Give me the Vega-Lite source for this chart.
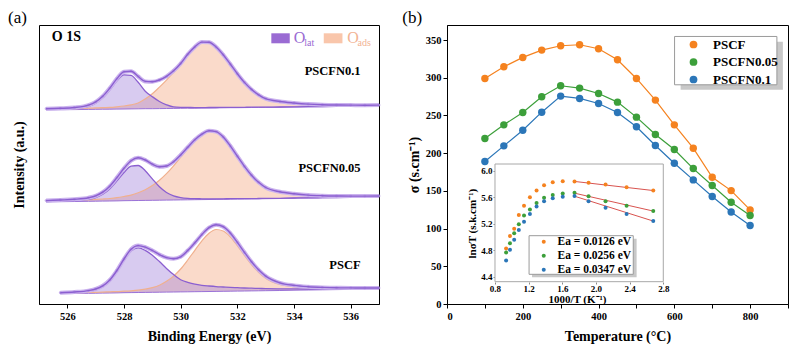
{
"$schema":"https://vega.github.io/schema/vega-lite/v6.json",
"padding":{"left":7,"top":8,"right":5,"bottom":5},
"bounds":"flush",
"spacing":68,
"config":{
 "font":"Liberation Serif",
 "view":{"stroke":"black","strokeWidth":1},
 "axis":{"labelFont":"Liberation Serif","labelFontWeight":"bold","titleFont":"Liberation Serif","titleFontWeight":"bold","labelColor":"black","titleColor":"black","tickColor":"black","domainColor":"black","grid":false,"labelOverlap":false},
 "legend":{"labelFont":"Liberation Serif","labelColor":"black"},
 "title":{"font":"Liberation Serif","fontSize":17,"fontWeight":"normal","anchor":"start","frame":"bounds","offset":-2,"color":"black"},
 "text":{"font":"Liberation Serif"}
},
"datasets":{
 "xps":[
{"s":"PSCFN0.1","e":525.25,"bg":194.1,"lat":194.6,"ads":194.8,"tot":195.3},
{"s":"PSCFN0.1","e":525.75,"bg":194.3,"lat":194.9,"ads":195.1,"tot":195.7},
{"s":"PSCFN0.1","e":526.25,"bg":194.4,"lat":195.5,"ads":195.4,"tot":196.5},
{"s":"PSCFN0.1","e":526.75,"bg":194.6,"lat":197.7,"ads":195.8,"tot":198.9},
{"s":"PSCFN0.1","e":527.0,"bg":194.7,"lat":200.7,"ads":196.1,"tot":202.1},
{"s":"PSCFN0.1","e":527.25,"bg":194.8,"lat":206.1,"ads":196.4,"tot":207.7},
{"s":"PSCFN0.1","e":527.5,"bg":194.8,"lat":214.1,"ads":196.6,"tot":215.9},
{"s":"PSCFN0.1","e":527.75,"bg":194.9,"lat":223.1,"ads":197.2,"tot":225.4},
{"s":"PSCFN0.1","e":528.0,"bg":195.0,"lat":229.2,"ads":198.0,"tot":232.2},
{"s":"PSCFN0.1","e":528.25,"bg":195.1,"lat":228.6,"ads":199.2,"tot":232.7},
{"s":"PSCFN0.1","e":528.5,"bg":195.2,"lat":221.7,"ads":201.0,"tot":227.5},
{"s":"PSCFN0.1","e":528.75,"bg":195.3,"lat":212.8,"ads":205.1,"tot":222.6},
{"s":"PSCFN0.1","e":529.0,"bg":195.3,"lat":207.3,"ads":210.3,"tot":222.3},
{"s":"PSCFN0.1","e":529.25,"bg":195.4,"lat":202.5,"ads":216.9,"tot":224.0},
{"s":"PSCFN0.1","e":529.5,"bg":195.5,"lat":199.2,"ads":223.9,"tot":227.6},
{"s":"PSCFN0.1","e":529.75,"bg":195.6,"lat":197.1,"ads":231.7,"tot":233.2},
{"s":"PSCFN0.1","e":530.0,"bg":195.7,"lat":196.7,"ads":239.5,"tot":240.5},
{"s":"PSCFN0.1","e":530.25,"bg":195.8,"lat":196.6,"ads":248.9,"tot":249.7},
{"s":"PSCFN0.1","e":530.5,"bg":195.8,"lat":196.4,"ads":256.5,"tot":257.1},
{"s":"PSCFN0.1","e":530.75,"bg":195.9,"lat":196.4,"ads":261.4,"tot":261.9},
{"s":"PSCFN0.1","e":531.0,"bg":196.0,"lat":196.5,"ads":261.3,"tot":261.8},
{"s":"PSCFN0.1","e":531.25,"bg":196.1,"lat":196.5,"ads":256.6,"tot":257.0},
{"s":"PSCFN0.1","e":531.5,"bg":196.2,"lat":196.6,"ads":248.9,"tot":249.3},
{"s":"PSCFN0.1","e":531.75,"bg":196.3,"lat":196.6,"ads":239.7,"tot":240.0},
{"s":"PSCFN0.1","e":532.0,"bg":196.3,"lat":196.6,"ads":230.0,"tot":230.3},
{"s":"PSCFN0.1","e":532.25,"bg":196.4,"lat":196.7,"ads":221.3,"tot":221.6},
{"s":"PSCFN0.1","e":532.5,"bg":196.5,"lat":196.8,"ads":214.3,"tot":214.6},
{"s":"PSCFN0.1","e":532.75,"bg":196.6,"lat":196.8,"ads":209.0,"tot":209.2},
{"s":"PSCFN0.1","e":533.0,"bg":196.7,"lat":196.9,"ads":205.1,"tot":205.3},
{"s":"PSCFN0.1","e":533.5,"bg":196.8,"lat":197.0,"ads":202.3,"tot":202.5},
{"s":"PSCFN0.1","e":534.0,"bg":197.0,"lat":197.2,"ads":200.8,"tot":201.0},
{"s":"PSCFN0.1","e":534.5,"bg":197.2,"lat":197.3,"ads":199.8,"tot":199.9},
{"s":"PSCFN0.1","e":535.0,"bg":197.3,"lat":197.4,"ads":199.2,"tot":199.3},
{"s":"PSCFN0.1","e":535.5,"bg":197.5,"lat":197.6,"ads":198.9,"tot":199.0},
{"s":"PSCFN0.1","e":536.0,"bg":197.7,"lat":197.8,"ads":198.8,"tot":198.9},
{"s":"PSCFN0.1","e":536.5,"bg":197.8,"lat":197.9,"ads":198.7,"tot":198.8},
{"s":"PSCFN0.1","e":537.0,"bg":198.0,"lat":198.1,"ads":198.8,"tot":198.9},
{"s":"PSCFN0.05","e":525.25,"bg":102.1,"lat":102.5,"ads":103.0,"tot":103.4},
{"s":"PSCFN0.05","e":525.75,"bg":102.3,"lat":102.9,"ads":103.4,"tot":104.0},
{"s":"PSCFN0.05","e":526.25,"bg":102.5,"lat":103.5,"ads":103.7,"tot":104.7},
{"s":"PSCFN0.05","e":526.75,"bg":102.7,"lat":104.7,"ads":104.3,"tot":106.3},
{"s":"PSCFN0.05","e":527.0,"bg":102.8,"lat":106.4,"ads":104.6,"tot":108.2},
{"s":"PSCFN0.05","e":527.25,"bg":102.9,"lat":109.7,"ads":105.0,"tot":111.8},
{"s":"PSCFN0.05","e":527.5,"bg":103.0,"lat":115.3,"ads":105.5,"tot":117.8},
{"s":"PSCFN0.05","e":527.75,"bg":103.1,"lat":123.2,"ads":106.3,"tot":126.4},
{"s":"PSCFN0.05","e":528.0,"bg":103.3,"lat":131.5,"ads":107.5,"tot":135.7},
{"s":"PSCFN0.05","e":528.25,"bg":103.4,"lat":137.8,"ads":108.9,"tot":143.3},
{"s":"PSCFN0.05","e":528.5,"bg":103.5,"lat":138.5,"ads":111.2,"tot":146.2},
{"s":"PSCFN0.05","e":528.75,"bg":103.6,"lat":133.3,"ads":114.3,"tot":144.0},
{"s":"PSCFN0.05","e":529.0,"bg":103.7,"lat":125.1,"ads":118.4,"tot":139.8},
{"s":"PSCFN0.05","e":529.25,"bg":103.8,"lat":117.2,"ads":123.8,"tot":137.2},
{"s":"PSCFN0.05","e":529.5,"bg":103.9,"lat":111.5,"ads":130.4,"tot":138.0},
{"s":"PSCFN0.05","e":529.75,"bg":104.0,"lat":108.1,"ads":138.2,"tot":142.3},
{"s":"PSCFN0.05","e":530.0,"bg":104.1,"lat":106.4,"ads":146.8,"tot":149.1},
{"s":"PSCFN0.05","e":530.25,"bg":104.2,"lat":105.6,"ads":155.4,"tot":156.8},
{"s":"PSCFN0.05","e":530.5,"bg":104.3,"lat":105.3,"ads":163.2,"tot":164.2},
{"s":"PSCFN0.05","e":530.75,"bg":104.4,"lat":105.2,"ads":169.0,"tot":169.8},
{"s":"PSCFN0.05","e":531.0,"bg":104.5,"lat":105.1,"ads":172.6,"tot":173.2},
{"s":"PSCFN0.05","e":531.25,"bg":104.6,"lat":105.2,"ads":171.8,"tot":172.4},
{"s":"PSCFN0.05","e":531.5,"bg":104.7,"lat":105.2,"ads":166.6,"tot":167.1},
{"s":"PSCFN0.05","e":531.75,"bg":104.8,"lat":105.3,"ads":157.7,"tot":158.2},
{"s":"PSCFN0.05","e":532.0,"bg":104.9,"lat":105.3,"ads":147.4,"tot":147.8},
{"s":"PSCFN0.05","e":532.25,"bg":105.0,"lat":105.4,"ads":137.3,"tot":137.7},
{"s":"PSCFN0.05","e":532.5,"bg":105.1,"lat":105.4,"ads":128.5,"tot":128.8},
{"s":"PSCFN0.05","e":532.75,"bg":105.2,"lat":105.5,"ads":121.4,"tot":121.7},
{"s":"PSCFN0.05","e":533.0,"bg":105.3,"lat":105.6,"ads":116.2,"tot":116.5},
{"s":"PSCFN0.05","e":533.5,"bg":105.5,"lat":105.7,"ads":112.0,"tot":112.2},
{"s":"PSCFN0.05","e":534.0,"bg":105.8,"lat":106.0,"ads":110.0,"tot":110.2},
{"s":"PSCFN0.05","e":534.5,"bg":106.0,"lat":106.1,"ads":108.8,"tot":108.9},
{"s":"PSCFN0.05","e":535.0,"bg":106.2,"lat":106.3,"ads":108.2,"tot":108.3},
{"s":"PSCFN0.05","e":535.5,"bg":106.4,"lat":106.5,"ads":107.9,"tot":108.0},
{"s":"PSCFN0.05","e":536.0,"bg":106.6,"lat":106.7,"ads":107.8,"tot":107.9},
{"s":"PSCFN0.05","e":536.5,"bg":106.8,"lat":106.9,"ads":107.8,"tot":107.9},
{"s":"PSCFN0.05","e":537.0,"bg":107.0,"lat":107.1,"ads":107.9,"tot":108.0},
{"s":"PSCF","e":525.75,"bg":10.3,"lat":10.7,"ads":10.9,"tot":11.3},
{"s":"PSCF","e":526.25,"bg":10.5,"lat":11.3,"ads":11.2,"tot":12.0},
{"s":"PSCF","e":526.75,"bg":10.7,"lat":12.6,"ads":11.5,"tot":13.4},
{"s":"PSCF","e":527.0,"bg":10.8,"lat":14.1,"ads":11.7,"tot":15.0},
{"s":"PSCF","e":527.25,"bg":10.9,"lat":17.2,"ads":11.9,"tot":18.2},
{"s":"PSCF","e":527.5,"bg":11.0,"lat":22.9,"ads":12.2,"tot":24.1},
{"s":"PSCF","e":527.75,"bg":11.1,"lat":32.2,"ads":12.4,"tot":33.5},
{"s":"PSCF","e":528.0,"bg":11.3,"lat":43.5,"ads":12.8,"tot":45.0},
{"s":"PSCF","e":528.25,"bg":11.4,"lat":53.0,"ads":13.2,"tot":54.8},
{"s":"PSCF","e":528.5,"bg":11.5,"lat":56.1,"ads":13.8,"tot":58.4},
{"s":"PSCF","e":528.75,"bg":11.6,"lat":53.6,"ads":14.8,"tot":56.8},
{"s":"PSCF","e":529.0,"bg":11.7,"lat":48.8,"ads":16.4,"tot":53.5},
{"s":"PSCF","e":529.25,"bg":11.8,"lat":42.4,"ads":18.8,"tot":49.4},
{"s":"PSCF","e":529.5,"bg":11.9,"lat":35.6,"ads":22.7,"tot":46.4},
{"s":"PSCF","e":529.75,"bg":12.0,"lat":29.4,"ads":27.9,"tot":45.3},
{"s":"PSCF","e":530.0,"bg":12.1,"lat":24.3,"ads":35.0,"tot":47.2},
{"s":"PSCF","e":530.25,"bg":12.2,"lat":21.7,"ads":44.0,"tot":53.5},
{"s":"PSCF","e":530.5,"bg":12.3,"lat":19.8,"ads":53.7,"tot":61.2},
{"s":"PSCF","e":530.75,"bg":12.4,"lat":18.7,"ads":63.2,"tot":69.5},
{"s":"PSCF","e":531.0,"bg":12.5,"lat":18.0,"ads":70.8,"tot":76.3},
{"s":"PSCF","e":531.25,"bg":12.6,"lat":17.4,"ads":74.5,"tot":79.3},
{"s":"PSCF","e":531.5,"bg":12.7,"lat":17.0,"ads":73.0,"tot":77.3},
{"s":"PSCF","e":531.75,"bg":12.8,"lat":16.6,"ads":67.2,"tot":71.0},
{"s":"PSCF","e":532.0,"bg":12.9,"lat":16.3,"ads":58.3,"tot":61.7},
{"s":"PSCF","e":532.25,"bg":13.0,"lat":16.0,"ads":48.7,"tot":51.7},
{"s":"PSCF","e":532.5,"bg":13.1,"lat":15.8,"ads":39.5,"tot":42.2},
{"s":"PSCF","e":532.75,"bg":13.2,"lat":15.6,"ads":31.8,"tot":34.2},
{"s":"PSCF","e":533.0,"bg":13.3,"lat":15.4,"ads":25.8,"tot":27.9},
{"s":"PSCF","e":533.5,"bg":13.5,"lat":15.2,"ads":19.5,"tot":21.2},
{"s":"PSCF","e":534.0,"bg":13.8,"lat":15.1,"ads":17.3,"tot":18.6},
{"s":"PSCF","e":534.5,"bg":14.0,"lat":15.0,"ads":16.3,"tot":17.3},
{"s":"PSCF","e":535.0,"bg":14.2,"lat":15.0,"ads":15.8,"tot":16.6},
{"s":"PSCF","e":535.5,"bg":14.4,"lat":15.0,"ads":15.6,"tot":16.2},
{"s":"PSCF","e":536.0,"bg":14.6,"lat":15.1,"ads":15.6,"tot":16.1},
{"s":"PSCF","e":536.5,"bg":14.8,"lat":15.2,"ads":15.6,"tot":16.0},
{"s":"PSCF","e":537.0,"bg":15.0,"lat":15.3,"ads":15.7,"tot":16.0}
 ],
 "cond":[
{"sample":"PSCF","T":100,"sigma":299.1},{"sample":"PSCF","T":150,"sigma":314.6},{"sample":"PSCF","T":200,"sigma":327.0},{"sample":"PSCF","T":250,"sigma":336.7},{"sample":"PSCF","T":300,"sigma":342.5},{"sample":"PSCF","T":350,"sigma":343.8},{"sample":"PSCF","T":400,"sigma":338.5},{"sample":"PSCF","T":450,"sigma":323.9},{"sample":"PSCF","T":500,"sigma":299.1},{"sample":"PSCF","T":550,"sigma":270.4},{"sample":"PSCF","T":600,"sigma":237.6},{"sample":"PSCF","T":650,"sigma":206.6},{"sample":"PSCF","T":700,"sigma":168.1},{"sample":"PSCF","T":750,"sigma":150.4},{"sample":"PSCF","T":800,"sigma":124.8},
{"sample":"PSCFN0.05","T":100,"sigma":219.5},{"sample":"PSCFN0.05","T":150,"sigma":237.6},{"sample":"PSCFN0.05","T":200,"sigma":254.0},{"sample":"PSCFN0.05","T":250,"sigma":274.8},{"sample":"PSCFN0.05","T":300,"sigma":289.4},{"sample":"PSCFN0.05","T":350,"sigma":286.3},{"sample":"PSCFN0.05","T":400,"sigma":279.2},{"sample":"PSCFN0.05","T":450,"sigma":267.7},{"sample":"PSCFN0.05","T":500,"sigma":247.8},{"sample":"PSCFN0.05","T":550,"sigma":224.8},{"sample":"PSCFN0.05","T":600,"sigma":204.9},{"sample":"PSCFN0.05","T":650,"sigma":179.6},{"sample":"PSCFN0.05","T":700,"sigma":157.1},{"sample":"PSCFN0.05","T":750,"sigma":135.0},{"sample":"PSCFN0.05","T":800,"sigma":117.3},
{"sample":"PSCFN0.1","T":100,"sigma":188.9},{"sample":"PSCFN0.1","T":150,"sigma":209.7},{"sample":"PSCFN0.1","T":200,"sigma":230.5},{"sample":"PSCFN0.1","T":250,"sigma":254.4},{"sample":"PSCFN0.1","T":300,"sigma":275.7},{"sample":"PSCFN0.1","T":350,"sigma":272.6},{"sample":"PSCFN0.1","T":400,"sigma":265.9},{"sample":"PSCFN0.1","T":450,"sigma":254.0},{"sample":"PSCFN0.1","T":500,"sigma":235.0},{"sample":"PSCFN0.1","T":550,"sigma":210.2},{"sample":"PSCFN0.1","T":600,"sigma":186.7},{"sample":"PSCFN0.1","T":650,"sigma":164.6},{"sample":"PSCFN0.1","T":700,"sigma":142.5},{"sample":"PSCFN0.1","T":750,"sigma":122.1},{"sample":"PSCFN0.1","T":800,"sigma":104.0}
 ],
 "arr":[
{"ea":"Ea = 0.0126 eV","inv":2.681,"ln":5.701},{"ea":"Ea = 0.0126 eV","inv":2.364,"ln":5.751},{"ea":"Ea = 0.0126 eV","inv":2.114,"ln":5.790},{"ea":"Ea = 0.0126 eV","inv":1.912,"ln":5.819},{"ea":"Ea = 0.0126 eV","inv":1.745,"ln":5.836},{"ea":"Ea = 0.0126 eV","inv":1.605,"ln":5.840},{"ea":"Ea = 0.0126 eV","inv":1.486,"ln":5.825},{"ea":"Ea = 0.0126 eV","inv":1.383,"ln":5.781},{"ea":"Ea = 0.0126 eV","inv":1.294,"ln":5.701},{"ea":"Ea = 0.0126 eV","inv":1.215,"ln":5.600},{"ea":"Ea = 0.0126 eV","inv":1.145,"ln":5.471},{"ea":"Ea = 0.0126 eV","inv":1.083,"ln":5.331},{"ea":"Ea = 0.0126 eV","inv":1.028,"ln":5.125},{"ea":"Ea = 0.0126 eV","inv":0.978,"ln":5.013},{"ea":"Ea = 0.0126 eV","inv":0.932,"ln":4.827},
{"ea":"Ea = 0.0256 eV","inv":2.681,"ln":5.391},{"ea":"Ea = 0.0256 eV","inv":2.364,"ln":5.471},{"ea":"Ea = 0.0256 eV","inv":2.114,"ln":5.537},{"ea":"Ea = 0.0256 eV","inv":1.912,"ln":5.616},{"ea":"Ea = 0.0256 eV","inv":1.745,"ln":5.668},{"ea":"Ea = 0.0256 eV","inv":1.605,"ln":5.657},{"ea":"Ea = 0.0256 eV","inv":1.486,"ln":5.632},{"ea":"Ea = 0.0256 eV","inv":1.383,"ln":5.590},{"ea":"Ea = 0.0256 eV","inv":1.294,"ln":5.513},{"ea":"Ea = 0.0256 eV","inv":1.215,"ln":5.415},{"ea":"Ea = 0.0256 eV","inv":1.145,"ln":5.323},{"ea":"Ea = 0.0256 eV","inv":1.083,"ln":5.191},{"ea":"Ea = 0.0256 eV","inv":1.028,"ln":5.057},{"ea":"Ea = 0.0256 eV","inv":0.978,"ln":4.905},{"ea":"Ea = 0.0256 eV","inv":0.932,"ln":4.765},
{"ea":"Ea = 0.0347 eV","inv":2.681,"ln":5.241},{"ea":"Ea = 0.0347 eV","inv":2.364,"ln":5.346},{"ea":"Ea = 0.0347 eV","inv":2.114,"ln":5.440},{"ea":"Ea = 0.0347 eV","inv":1.912,"ln":5.539},{"ea":"Ea = 0.0347 eV","inv":1.745,"ln":5.619},{"ea":"Ea = 0.0347 eV","inv":1.605,"ln":5.608},{"ea":"Ea = 0.0347 eV","inv":1.486,"ln":5.583},{"ea":"Ea = 0.0347 eV","inv":1.383,"ln":5.537},{"ea":"Ea = 0.0347 eV","inv":1.294,"ln":5.460},{"ea":"Ea = 0.0347 eV","inv":1.215,"ln":5.348},{"ea":"Ea = 0.0347 eV","inv":1.145,"ln":5.230},{"ea":"Ea = 0.0347 eV","inv":1.083,"ln":5.104},{"ea":"Ea = 0.0347 eV","inv":1.028,"ln":4.959},{"ea":"Ea = 0.0347 eV","inv":0.978,"ln":4.805},{"ea":"Ea = 0.0347 eV","inv":0.932,"ln":4.644}
 ],
 "fit":[
{"ea":"Ea = 0.0126 eV","inv":1.73,"ln":5.840},{"ea":"Ea = 0.0126 eV","inv":2.69,"ln":5.699},
{"ea":"Ea = 0.0256 eV","inv":1.73,"ln":5.665},{"ea":"Ea = 0.0256 eV","inv":2.69,"ln":5.388},
{"ea":"Ea = 0.0347 eV","inv":1.73,"ln":5.621},{"ea":"Ea = 0.0347 eV","inv":2.69,"ln":5.236}
 ]
},
"hconcat":[
{
 "width":340,"height":279,
 "title":{"text":"(a)","dx":-4},
 "layer":[
  {"data":{"name":"xps"},"mark":{"type":"area","interpolate":"monotone","fill":"#f6c1a6","fillOpacity":0.6},
   "encoding":{
    "x":{"field":"e","type":"quantitative","title":"Binding Energy (eV)","scale":{"domain":[525,537],"nice":false,"zero":false},
      "axis":{"values":[526,527,528,529,530,531,532,533,534,535,536],"labelExpr":"datum.value % 2 == 0 ? datum.label : ''","labelOverlap":false,"tickSize":4,"labelFontSize":10.5,"titleFontSize":14,"labelPadding":3,"titlePadding":8}},
    "y":{"field":"ads","type":"quantitative","title":"Intensity (a.u.)","scale":{"domain":[0,279],"nice":false},
      "axis":{"labels":false,"ticks":false,"domain":false,"titleFontSize":14,"titlePadding":13}},
    "y2":{"field":"bg"},"detail":{"field":"s"}}},
  {"data":{"name":"xps"},"mark":{"type":"area","interpolate":"monotone","fill":"#a383dc","fillOpacity":0.42},
   "encoding":{"x":{"field":"e","type":"quantitative","title":"Binding Energy (eV)"},"y":{"field":"lat","type":"quantitative","title":"Intensity (a.u.)"},"y2":{"field":"bg"},"detail":{"field":"s"}}},
  {"data":{"name":"xps"},"mark":{"type":"line","interpolate":"monotone","stroke":"#9a72d8","strokeWidth":1},
   "encoding":{"x":{"field":"e","type":"quantitative","title":"Binding Energy (eV)"},"y":{"field":"bg","type":"quantitative","title":"Intensity (a.u.)"},"detail":{"field":"s"}}},
  {"data":{"name":"xps"},"mark":{"type":"line","interpolate":"monotone","stroke":"#f0b08e","strokeWidth":1.2},
   "encoding":{"x":{"field":"e","type":"quantitative","title":"Binding Energy (eV)"},"y":{"field":"ads","type":"quantitative","title":"Intensity (a.u.)"},"detail":{"field":"s"}}},
  {"data":{"name":"xps"},"mark":{"type":"line","interpolate":"monotone","stroke":"#8b5fd0","strokeWidth":1.3},
   "encoding":{"x":{"field":"e","type":"quantitative","title":"Binding Energy (eV)"},"y":{"field":"lat","type":"quantitative","title":"Intensity (a.u.)"},"detail":{"field":"s"}}},
  {"data":{"name":"xps"},"mark":{"type":"line","interpolate":"monotone","stroke":"#cbb3ee","strokeWidth":4},
   "encoding":{"x":{"field":"e","type":"quantitative","title":"Binding Energy (eV)"},"y":{"field":"tot","type":"quantitative","title":"Intensity (a.u.)"},"detail":{"field":"s"}}},
  {"data":{"name":"xps"},"mark":{"type":"point","filled":true,"size":8,"color":"#b597e4","opacity":0.8},
   "encoding":{"x":{"field":"e","type":"quantitative","title":"Binding Energy (eV)"},"y":{"field":"tot","type":"quantitative","title":"Intensity (a.u.)"}}},
  {"data":{"name":"xps"},"mark":{"type":"line","interpolate":"monotone","stroke":"#8b5fd0","strokeWidth":1.4},
   "encoding":{"x":{"field":"e","type":"quantitative","title":"Binding Energy (eV)"},"y":{"field":"tot","type":"quantitative","title":"Intensity (a.u.)"},"detail":{"field":"s"}}},
  {"data":{"values":[{}]},"mark":{"type":"text","text":"O 1S","align":"left","baseline":"middle","fontSize":14,"fontWeight":"bold","color":"black"},
   "encoding":{"x":{"datum":525.45},"y":{"datum":267}}},
  {"data":{"values":[{}]},"mark":{"type":"text","text":"PSCFN0.1","align":"right","baseline":"middle","fontSize":12.5,"fontWeight":"bold","color":"black"},
   "encoding":{"x":{"datum":536.35},"y":{"datum":233}}},
  {"data":{"values":[{}]},"mark":{"type":"text","text":"PSCFN0.05","align":"right","baseline":"middle","fontSize":12.5,"fontWeight":"bold","color":"black"},
   "encoding":{"x":{"datum":536.35},"y":{"datum":136.5}}},
  {"data":{"values":[{}]},"mark":{"type":"text","text":"PSCF","align":"right","baseline":"middle","fontSize":12.5,"fontWeight":"bold","color":"black"},
   "encoding":{"x":{"datum":536.35},"y":{"datum":39}}},
  {"data":{"values":[{}]},"mark":{"type":"rect","fill":"#9a6bd3"},
   "encoding":{"x":{"datum":533.2},"x2":{"datum":533.85},"y":{"datum":260.7},"y2":{"datum":270.7}}},
  {"data":{"values":[{}]},"mark":{"type":"rect","fill":"#f9c6ab"},
   "encoding":{"x":{"datum":535.05},"x2":{"datum":535.71},"y":{"datum":260.7},"y2":{"datum":270.7}}},
  {"data":{"values":[{}]},"mark":{"type":"text","text":"O","align":"left","baseline":"middle","fontSize":16,"color":"#9a6bd3"},
   "encoding":{"x":{"datum":533.99},"y":{"datum":266.5}}},
  {"data":{"values":[{}]},"mark":{"type":"text","text":"lat","align":"left","baseline":"middle","fontSize":10,"color":"#9a6bd3"},
   "encoding":{"x":{"datum":534.36},"y":{"datum":261.5}}},
  {"data":{"values":[{}]},"mark":{"type":"text","text":"O","align":"left","baseline":"middle","fontSize":16,"color":"#f2b393"},
   "encoding":{"x":{"datum":535.88},"y":{"datum":266.5}}},
  {"data":{"values":[{}]},"mark":{"type":"text","text":"ads","align":"left","baseline":"middle","fontSize":10,"color":"#f2b393"},
   "encoding":{"x":{"datum":536.24},"y":{"datum":261.5}}}
 ]
},
{
 "width":341,"height":279,
 "title":{"text":"(b)","dx":-5},
 "layer":[
  {"layer":[
   {"data":{"name":"cond"},"mark":{"type":"line","strokeWidth":1.2},
    "encoding":{
     "x":{"field":"T","type":"quantitative","title":"Temperature (°C)","scale":{"domain":[0,900],"nice":false},
       "axis":{"values":[0,100,200,300,400,500,600,700,800,900],"labelExpr":"datum.value % 200 == 0 ? datum.label : ''","labelOverlap":false,"tickSize":4,"labelFontSize":10.5,"titleFontSize":14,"labelPadding":3,"titlePadding":8}},
     "y":{"field":"sigma","type":"quantitative","title":"σ (s.cm⁻¹)","scale":{"domain":[0,370],"nice":false},
       "axis":{"values":[0,50,100,150,200,250,300,350],"labelOverlap":false,"tickSize":4,"labelFontSize":10.5,"titleFontSize":14,"labelPadding":2,"titlePadding":4}},
     "stroke":{"field":"sample","type":"nominal","scale":{"domain":["PSCF","PSCFN0.05","PSCFN0.1"],"range":["#f5821f","#3c9f3a","#2b76b8"]},"legend":null}}},
   {"data":{"name":"cond"},"mark":{"type":"point","filled":true,"size":55,"opacity":1},
    "encoding":{
     "x":{"field":"T","type":"quantitative","title":"Temperature (°C)","scale":{"domain":[0,900],"nice":false},
       "axis":{"values":[0,100,200,300,400,500,600,700,800,900],"labelExpr":"datum.value % 200 == 0 ? datum.label : ''","labelOverlap":false,"tickSize":4,"labelFontSize":10.5,"titleFontSize":14,"labelPadding":3,"titlePadding":8}},
     "y":{"field":"sigma","type":"quantitative","title":"σ (s.cm⁻¹)","scale":{"domain":[0,370],"nice":false},
       "axis":{"values":[0,50,100,150,200,250,300,350],"labelOverlap":false,"tickSize":4,"labelFontSize":10.5,"titleFontSize":14,"labelPadding":2,"titlePadding":4}},
     "color":{"field":"sample","type":"nominal","scale":{"domain":["PSCF","PSCFN0.05","PSCFN0.1"],"range":["#f5821f","#3c9f3a","#2b76b8"]},
      "legend":{"orient":"none","legendX":240,"legendY":13,"title":null,"labelFontSize":13,"labelFontWeight":"bold","symbolType":"circle","symbolSize":60,"labelOffset":13,"rowPadding":3.5,"padding":0}}}}
  ]},
  {"layer":[
   {"data":{"values":[{}]},"mark":{"type":"rect","fill":"#c8c8c8"},
    "encoding":{"x":{"datum":3.006,"type":"quantitative"},"x2":{"datum":4.221},"y":{"datum":7.220,"type":"quantitative"},"y2":{"datum":7.946}}},
   {"data":{"values":[{}]},"mark":{"type":"rect","fill":"white","stroke":"#9a9a9a","strokeWidth":1},
    "encoding":{"x":{"datum":2.934,"type":"quantitative"},"x2":{"datum":4.150},"y":{"datum":7.2965,"type":"quantitative"},"y2":{"datum":8.026}}},
   {"data":{"values":[{}]},"mark":{"type":"rect","fill":"white","stroke":"#a8a8a8","strokeWidth":1},
    "encoding":{"x":{"datum":0.8,"type":"quantitative"},"x2":{"datum":2.8},"y":{"datum":4.325,"type":"quantitative"},"y2":{"datum":6.101}}},
   {"data":{"values":[{}]},"mark":{"type":"rect","fill":"#c8c8c8"},
    "encoding":{"x":{"datum":1.24,"type":"quantitative"},"x2":{"datum":2.483},"y":{"datum":4.391,"type":"quantitative"},"y2":{"datum":4.974}}},
   {"data":{"values":[{}]},"mark":{"type":"rect","fill":"white","stroke":"#9a9a9a","strokeWidth":1},
    "encoding":{"x":{"datum":1.205,"type":"quantitative"},"x2":{"datum":2.443},"y":{"datum":4.436,"type":"quantitative"},"y2":{"datum":5.019}}},
   {"data":{"name":"fit"},"mark":{"type":"line","stroke":"#d9534f","strokeWidth":1},
    "encoding":{"x":{"field":"inv","type":"quantitative"},"y":{"field":"ln","type":"quantitative"},"detail":{"field":"ea"}}},
   {"data":{"name":"arr"},"mark":{"type":"point","filled":true,"size":16,"opacity":1},
    "encoding":{
     "x":{"field":"inv","type":"quantitative","scale":{"domain":[0.2296,4.282],"nice":false,"zero":false},
       "axis":{"orient":"bottom","offset":-22,"title":null,"domain":false,"values":[0.8,1.0,1.2,1.4,1.6,1.8,2.0,2.2,2.4,2.6,2.8],"labelExpr":"round(datum.value*10) % 4 == 0 ? format(datum.value, '.1f') : ''","labelOverlap":false,"tickSize":2,"tickColor":"#8a8a8a","labelFontSize":9,"labelPadding":0}},
     "y":{"field":"ln","type":"quantitative","scale":{"domain":[3.988,8.199],"nice":false,"zero":false},
       "axis":{"orient":"left","offset":-48,"title":null,"domain":false,"values":[4.4,4.6,4.8,5.0,5.2,5.4,5.6,5.8,6.0],"labelExpr":"round(datum.value*10) % 4 == 0 ? format(datum.value, '.1f') : ''","labelOverlap":false,"tickSize":2,"tickColor":"#8a8a8a","labelFontSize":9,"labelPadding":1}},
     "color":{"field":"ea","type":"nominal","scale":{"domain":["Ea = 0.0126 eV","Ea = 0.0256 eV","Ea = 0.0347 eV"],"range":["#f5821f","#3c9f3a","#2b76b8"]},
      "legend":{"orient":"none","legendX":91,"legendY":211,"title":null,"labelFontSize":11.5,"labelFontWeight":"bold","symbolType":"circle","symbolSize":16,"labelOffset":8,"rowPadding":1,"padding":0}}}},
   {"data":{"values":[{}]},"mark":{"type":"text","text":"1000/T (K⁻¹)","align":"center","baseline":"middle","fontSize":11,"fontWeight":"bold","color":"black"},
    "encoding":{"x":{"datum":1.78},"y":{"datum":4.05}}},
   {"data":{"values":[{}]},"mark":{"type":"text","text":"lnσT (s.k.cm⁻¹)","align":"center","baseline":"middle","angle":270,"fontSize":11,"fontWeight":"bold","color":"black"},
    "encoding":{"x":{"datum":0.535},"y":{"datum":5.2}}}
  ]}
 ],
 "resolve":{"scale":{"x":"independent","y":"independent","color":"independent"},"axis":{"x":"independent","y":"independent"},"legend":{"color":"independent"}}
}
]
}
